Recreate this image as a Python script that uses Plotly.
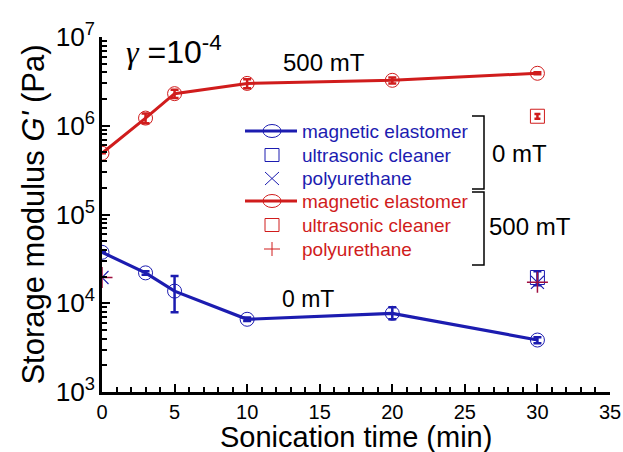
import plotly.graph_objects as go

# ---- data ----
time_me = [0, 3, 5, 10, 20, 30]
g_me_500 = [4.9e5, 1.22e6, 2.3e6, 3.0e6, 3.25e6, 3.9e6]
g_me_500_err_plus = [0, 1.5e5, 2.5e5, 3.5e5, 2.5e5, 1.0e5]
g_me_500_err_minus = [0, 1.5e5, 2.5e5, 3.5e5, 2.5e5, 1.0e5]
g_me_0 = [3.75e4, 2.2e4, 1.37e4, 6.6e3, 7.7e3, 3.85e3]
g_me_0_err_plus = [0, 1.0e3, 6.6e3, 3.0e2, 1.3e3, 3.0e2]
g_me_0_err_minus = [0, 1.0e3, 5.8e3, 3.0e2, 1.1e3, 3.0e2]

time_uc = [30]
g_uc_0 = [1.95e4]
g_uc_0_err = [3.5e3]
g_uc_500 = [1.28e6]
g_uc_500_err = [8.0e4]

time_pu = [0, 30]
g_pu_0 = [1.95e4, 1.72e4]
g_pu_500 = [1.95e4, 1.72e4]

BLUE = "#1c1cb0"
RED = "#d01c1c"
PU_RED = "#a01040"

fig = go.Figure()

fig.add_trace(go.Scatter(
    x=time_me, y=g_me_500, mode="lines+markers",
    line=dict(color=RED, width=3),
    marker=dict(symbol="circle-open", size=14, color=RED, line=dict(width=1)),
    error_y=dict(type="data", array=g_me_500_err_plus, arrayminus=g_me_500_err_minus,
                 color=RED, thickness=2.5, width=4),
    showlegend=False))

fig.add_trace(go.Scatter(
    x=time_me, y=g_me_0, mode="lines+markers",
    line=dict(color=BLUE, width=3.2),
    marker=dict(symbol="circle-open", size=14, color=BLUE, line=dict(width=1)),
    error_y=dict(type="data", array=g_me_0_err_plus, arrayminus=g_me_0_err_minus,
                 color=BLUE, thickness=2.5, width=4),
    showlegend=False))

fig.add_trace(go.Scatter(
    x=time_uc, y=g_uc_500, mode="markers",
    marker=dict(symbol="square-open", size=14, color=RED, line=dict(width=1)),
    error_y=dict(type="data", array=g_uc_500_err, color=RED, thickness=2.5, width=3),
    showlegend=False))

fig.add_trace(go.Scatter(
    x=time_uc, y=g_uc_0, mode="markers",
    marker=dict(symbol="square-open", size=14, color=BLUE, line=dict(width=1)),
    error_y=dict(type="data", array=g_uc_0_err, color=BLUE, thickness=2.5, width=4),
    showlegend=False))

fig.add_trace(go.Scatter(
    x=time_pu, y=g_pu_0, mode="markers",
    marker=dict(symbol="x-thin-open", size=13, color=BLUE, line=dict(width=1.2, color=BLUE)),
    showlegend=False))

fig.add_trace(go.Scatter(
    x=time_pu, y=g_pu_500, mode="markers",
    marker=dict(symbol="cross-thin-open", size=15, color=PU_RED, line=dict(width=1.5, color=PU_RED)),
    showlegend=False))

# ---- layout ----
L, R, T, B = 102, 13, 37, 60
W, H = 623, 452
PW, PH = W - L - R, H - T - B


def px(x):
    return (x - L) / PW


def py(y):
    return (H - B - y) / PH


FONT = "Liberation Sans, Arial, sans-serif"

annotations = [
    dict(x=px(124), y=py(50), xref="paper", yref="paper", xanchor="left", yanchor="middle",
         text="<span style='font-family:Liberation Serif,Times New Roman,serif'><i>γ</i></span> =10<sup>-4</sup>",
         showarrow=False, font=dict(size=32, color="black", family=FONT)),
    dict(x=px(324), y=py(62), xref="paper", yref="paper", xanchor="center", yanchor="middle",
         text="500 mT", showarrow=False, font=dict(size=24, color="black", family=FONT)),
    dict(x=px(308), y=py(299), xref="paper", yref="paper", xanchor="center", yanchor="middle",
         text="0 mT", showarrow=False, font=dict(size=23, color="black", family=FONT)),
    dict(x=px(490), y=py(153), xref="paper", yref="paper", xanchor="left", yanchor="middle",
         text="0 mT", showarrow=False, font=dict(size=24, color="black", family=FONT)),
    dict(x=px(487), y=py(227), xref="paper", yref="paper", xanchor="left", yanchor="middle",
         text="500 mT", showarrow=False, font=dict(size=24, color="black", family=FONT)),
    dict(x=px(356), y=py(437), xref="paper", yref="paper", xanchor="center", yanchor="middle",
         text="Sonication time (min)", showarrow=False, font=dict(size=29, color="black", family=FONT)),
]

legend_names = ["magnetic elastomer", "ultrasonic cleaner", "polyurethane",
                "magnetic elastomer", "ultrasonic cleaner", "polyurethane"]
legend_colors = [BLUE, BLUE, BLUE, RED, RED, RED]
legend_rows = [131, 155, 178, 201, 225, 249]
for name, col, yy in zip(legend_names, legend_colors, legend_rows):
    annotations.append(dict(x=px(300), y=py(yy), xref="paper", yref="paper", xanchor="left",
                            yanchor="middle", text=name, showarrow=False,
                            font=dict(size=19, color=col, family=FONT)))

shapes = []
# brackets
for (y0, y1) in [(116, 189), (192, 265)]:
    shapes.append(dict(type="path", xref="paper", yref="paper",
                       path=f"M {px(472)} {py(y0)} L {px(484)} {py(y0)} L {px(484)} {py(y1)} L {px(472)} {py(y1)}",
                       line=dict(color="black", width=1.5)))

# legend samples
cx = 272
rx, ry = 9, 6.5
for col, yy in [(BLUE, 131), (RED, 201)]:
    shapes.append(dict(type="line", xref="paper", yref="paper", x0=px(245), x1=px(297),
                       y0=py(yy), y1=py(yy), line=dict(color=col, width=3)))
    shapes.append(dict(type="circle", xref="paper", yref="paper", x0=px(cx - rx), x1=px(cx + rx),
                       y0=py(yy - ry), y1=py(yy + ry), line=dict(color=col, width=1), fillcolor="rgba(0,0,0,0)"))
s = 7
for col, yy in [(BLUE, 155), (RED, 225)]:
    shapes.append(dict(type="rect", xref="paper", yref="paper", x0=px(cx - s), x1=px(cx + s),
                       y0=py(yy - s + 0.5), y1=py(yy + s - 0.5), line=dict(color=col, width=1)))
# x sample
shapes.append(dict(type="path", xref="paper", yref="paper",
                   path=f"M {px(cx-7)} {py(172)} L {px(cx+7)} {py(185)} M {px(cx-7)} {py(185)} L {px(cx+7)} {py(172)}",
                   line=dict(color=BLUE, width=1)))
# + sample
shapes.append(dict(type="path", xref="paper", yref="paper",
                   path=f"M {px(cx-8)} {py(249)} L {px(cx+8)} {py(249)} M {px(cx)} {py(242)} L {px(cx)} {py(256)}",
                   line=dict(color=RED, width=1)))

fig.update_layout(
    width=W, height=H,
    margin=dict(l=L, r=R, t=T, b=B, autoexpand=False),
    paper_bgcolor="white", plot_bgcolor="white",
    font=dict(family=FONT, color="black"),
    showlegend=False,
    annotations=annotations,
    shapes=shapes,
    xaxis=dict(range=[0, 35], dtick=5, tick0=0, showgrid=False, zeroline=False,
               automargin=False,
               showline=True, linecolor="black", linewidth=2.5,
               ticks="inside", ticklen=8, tickwidth=2, tickcolor="black",
               minor=dict(ticks="inside", ticklen=5, tickwidth=1.5, dtick=1, tickcolor="black", showgrid=False),
               tickfont=dict(size=20, family=FONT)),
    yaxis=dict(type="log", range=[3, 7], dtick=1, showgrid=False, zeroline=False,
               automargin=False,
               showline=True, linecolor="black", linewidth=2.5,
               ticks="inside", ticklen=8, tickwidth=2, tickcolor="black",
               exponentformat="power",
               minor=dict(ticks="inside", ticklen=5, tickwidth=1.5, dtick="D1", tickcolor="black", showgrid=False),
               tickfont=dict(size=21, family=FONT),
               title=dict(text="Storage modulus <i>G'</i> (Pa)", font=dict(size=31, family=FONT), standoff=2)),
)

fig.write_html("out.html")
